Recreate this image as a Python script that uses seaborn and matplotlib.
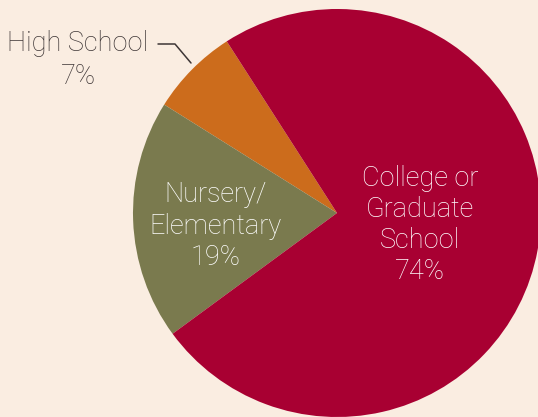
import matplotlib
matplotlib.use("Agg")
import matplotlib.pyplot as plt
import seaborn as sns

# data
categories = ["High School", "Nursery/\nElementary", "College or\nGraduate\nSchool"]
shares = [7, 19, 74]
colors = ["#CC6C1C", "#7A7A4E", "#A80032"]
bg = "#FAEDE1"

sns.set_theme(style="white")
plt.rcParams["font.family"] = ["Roboto", "DejaVu Sans"]

fig = plt.figure(figsize=(5.38, 4.17), dpi=100, facecolor=bg)
ax = fig.add_axes([0, 0, 1, 1])
ax.set_facecolor(bg)

wedges, _ = ax.pie(shares, colors=colors, startangle=122.7, counterclock=True,
                   center=(337, 204), radius=204,
                   wedgeprops=dict(linewidth=0))
ax.set_xlim(0, 538)
ax.set_ylim(0, 417)
ax.set_aspect("equal")
ax.axis("off")

fs = 19.5
lw = "light"
# inside labels
ax.text(420, 192, f"{categories[2]}\n{shares[2]}%", ha="center", va="center",
        color="white", fontsize=fs, fontweight=lw, linespacing=1.2)
ax.text(216, 191, f"{categories[1]}\n{shares[1]}%", ha="center", va="center",
        color="white", fontsize=fs, fontweight=lw, linespacing=1.2)
# outside label with leader line
ax.text(78, 357, f"{categories[0]}\n{shares[0]}%", ha="center", va="center",
        color="#3E3636", fontsize=fs, fontweight=lw, linespacing=1.25)
ax.plot([158, 175, 191], [373, 373, 354], color="#3E3636", lw=1.1)

fig.savefig("out.png", dpi=100, facecolor=bg)
